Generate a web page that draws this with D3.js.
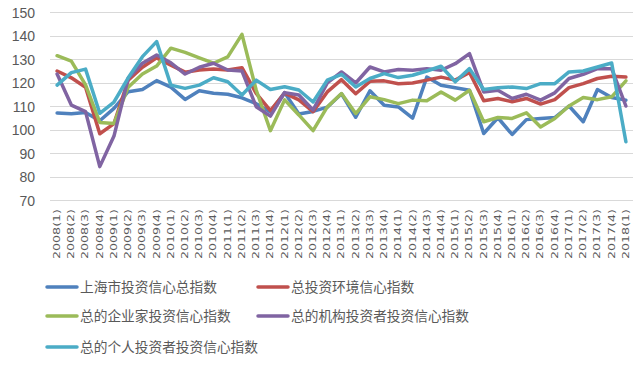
<!DOCTYPE html>
<html><head><meta charset="utf-8">
<script src="https://cdn.jsdelivr.net/npm/d3@7"></script>
<style>html,body{margin:0;padding:0;background:#fff;}svg{display:block;}</style>
</head><body>
<script>
const years = d3.range(2008, 2019);
const categories = [];
years.forEach(y => [1,2,3,4].forEach(q => { if (y < 2018 || q === 1) categories.push(`${y}(${q})`); }));

const seriesNames = ["上海市投资信心总指数", "总投资环境信心指数", "总的企业家投资信心指数", "总的机构投资者投资信心指数", "总的个人投资者投资信心指数"];
const seriesColors = ["#4F81BD", "#C0504D", "#9BBB59", "#8064A2", "#4BACC6"];

const shTotal = [107, 106.7, 107.2, 103.7, 109, 116.1, 117, 120.8, 118, 112.8, 116.5, 115.4, 115, 113.5, 111, 107.5, 115.7, 106.6, 107.7, 109.5, 115.2, 105.2, 116.5, 110.3, 109.6, 104.8, 122.3, 118.8, 117.8, 116.7, 98.3, 105, 97.9, 104.2, 104.7, 105.1, 110, 103.3, 117, 113.6, 112.5];
const envIndex = [124.9, 122, 118, 98.2, 102.5, 121, 126.5, 130.5, 127.4, 124.4, 125.3, 125.7, 125.3, 126.3, 115.4, 108, 115.5, 112.6, 107.6, 116, 121.2, 115.2, 120.5, 120.7, 119.5, 119.8, 121, 122.3, 121, 124.3, 112.2, 113.2, 111.8, 113.2, 110.8, 112.7, 117.8, 119.5, 121.7, 122.7, 122.3];
const entrepreneur = [131.4, 129.1, 119, 103, 102.6, 118, 123.6, 127, 134.6, 132.8, 130.5, 128.2, 130.9, 140.5, 116.8, 99.5, 112.6, 106.2, 99.5, 109.6, 115.3, 106.8, 113.9, 112.7, 111, 112.5, 112.2, 116, 112.5, 116.7, 103.3, 105.1, 104.7, 107.1, 101.1, 104.7, 110, 113.6, 112.7, 113.9, 120.7];
const institution = [123.6, 110.4, 107.6, 84.2, 97.2, 121.8, 128.2, 131.7, 128.4, 123.6, 126.5, 128.2, 125.3, 124.9, 109.7, 105.7, 115.7, 114.7, 108.3, 119.8, 124.5, 119.8, 126.6, 124.5, 125.5, 125.2, 125.9, 125.2, 128, 132.3, 116, 116.7, 113.2, 115, 112.5, 115.6, 121.7, 123.5, 125.9, 125.9, 110];
const individual = [118.9, 124.2, 125.7, 106.9, 111.7, 122, 131, 137.4, 118.9, 117.5, 118.9, 122, 120.3, 114.7, 121, 117, 118.2, 116.8, 111.7, 121, 123.5, 118.1, 121.7, 123.8, 122.1, 123.1, 124.9, 126.9, 120.3, 125.9, 117, 117.8, 118.1, 117.4, 119.5, 119.5, 124.5, 124.9, 126.6, 128.3, 94.8];
const yTicks = [70, 80, 90, 100, 110, 120, 130, 140, 150];

const seriesValues = [shTotal, envIndex, entrepreneur, institution, individual];

const W = 639, H = 367;
const svg = d3.select("body").append("svg").attr("width", W).attr("height", H);

const x = d3.scaleBand().domain(categories).range([50, 633]);
const y = d3.scaleLinear().domain([70, 150]).range([200, 12]);

// gridlines
svg.append("g").selectAll("line").data(yTicks).join("line")
  .attr("x1", 50).attr("x2", 633)
  .attr("y1", d => Math.round(y(d)) + 0.5).attr("y2", d => Math.round(y(d)) + 0.5)
  .attr("stroke", "#d9d9d9").attr("stroke-width", 1);

// y axis labels
const yAxis = d3.axisLeft(y).tickValues(yTicks).tickSize(0).tickPadding(0);
const gy = svg.append("g").attr("transform", "translate(35,0)").call(yAxis);
gy.select(".domain").remove();
gy.selectAll("text").attr("fill", "#595959").attr("font-family", "Liberation Sans, Arial, sans-serif").attr("font-size", 14).attr("dy", "0.36em");

// x axis labels (rotated)
svg.append("g").selectAll("text").data(categories).join("text")
  .attr("transform", d => `translate(${x(d) + x.bandwidth() / 2 - 0.5},209) rotate(-90) scale(1.33,1)`)
  .attr("text-anchor", "end")
  .attr("dy", "0.36em")
  .attr("fill", "#595959")
  .attr("font-family", "DejaVu Sans, sans-serif")
  .attr("font-size", 9.5)
  .text(d => d);

// lines
const line = d3.line()
  .x((d, i) => x(categories[i]) + x.bandwidth() / 2)
  .y(d => y(d));
svg.append("g").selectAll("path").data(seriesValues).join("path")
  .attr("d", d => line(d))
  .attr("fill", "none")
  .attr("stroke", (d, i) => seriesColors[i])
  .attr("stroke-width", 3.5)
  .attr("stroke-linejoin", "round")
  .attr("stroke-linecap", "round");

// legend
const legendPos = [[47, 287], [258, 287], [47, 316], [258, 316], [47, 347]];
const lg = svg.append("g").selectAll("g").data(seriesNames).join("g")
  .attr("transform", (d, i) => `translate(${legendPos[i][0]},${legendPos[i][1]})`);
lg.append("line").attr("x1", 0).attr("x2", 30).attr("y1", 0).attr("y2", 0)
  .attr("stroke", (d, i) => seriesColors[i]).attr("stroke-width", 3.5).attr("stroke-linecap", "round");
lg.append("text").attr("x", 33).attr("y", 0).attr("dy", "0.36em")
  .attr("fill", "#595959").attr("font-family", "Noto Sans CJK SC, sans-serif").attr("font-size", 13.7)
  .text(d => d);
</script>
</body></html>
